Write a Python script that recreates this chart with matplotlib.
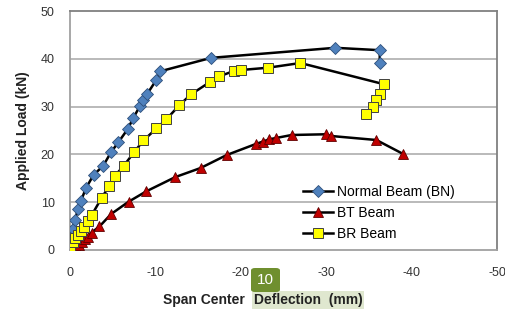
import matplotlib
matplotlib.use("Agg")
import matplotlib.pyplot as plt
from matplotlib.patches import FancyBboxPatch

plt.rcParams['font.family'] = ['Liberation Sans', 'DejaVu Sans']

# Normal Beam (BN)
bn_x = [0, -0.06, -0.32, -0.59, -0.94, -1.29, -1.88, -2.76, -3.88, -4.82, -5.65, -6.76,
        -7.41, -8.18, -8.55, -9.02, -10.12, -10.59, -16.53, -31.06, -36.27, -36.27]
bn_y = [0, 2.7, 4.4, 6.3, 8.6, 10.3, 13.0, 15.7, 17.6, 20.5, 22.5, 25.3,
        27.6, 30.1, 31.4, 32.6, 35.6, 37.4, 40.2, 42.3, 41.8, 39.1]

# BT Beam
bt_x = [0, -0.35, -0.71, -1.06, -1.41, -1.76, -2.12, -2.53, -3.45, -4.82, -6.86, -8.94,
        -12.35, -15.29, -18.35, -21.76, -22.55, -23.33, -24.12, -25.96, -29.94, -30.59,
        -35.88, -39.02]
bt_y = [0, 0.31, 0.73, 1.15, 1.67, 2.20, 2.82, 3.66, 4.92, 7.53, 10.10, 12.28,
        15.27, 17.15, 19.87, 22.18, 22.66, 23.16, 23.43, 24.06, 24.21, 23.85,
        23.01, 20.08]

# BR Beam
br_x = [0, -0.32, -0.59, -0.98, -1.29, -1.65, -2.12, -2.55, -3.73, -4.59, -5.24, -6.27,
        -7.53, -8.59, -10.12, -11.29, -12.82, -14.18, -16.39, -17.45, -19.18, -20.06,
        -23.21, -26.98, -36.79, -36.27, -35.88, -35.49, -34.71]
br_y = [0, 1.74, 2.45, 3.14, 3.97, 4.81, 6.07, 7.32, 10.98, 13.39, 15.48, 17.57,
        20.50, 22.91, 25.42, 27.34, 30.33, 32.57, 35.15, 36.30, 37.45, 37.66,
        38.14, 39.12, 34.67, 32.57, 31.38, 29.98, 28.39]

x_ticks = [0, -10, -20, -30, -40, -50]
y_ticks = [0, 10, 20, 30, 40, 50]

W, H = 506, 312
fig = plt.figure(figsize=(W / 100, H / 100), dpi=100)
ax = fig.add_axes([70 / W, 1 - 250 / H, 427 / W, 239 / H])

ax.set_xlim(0, -50)
ax.set_ylim(0, 50)

for yv in [10, 20, 30, 40]:
    ax.axhline(yv, color='#b4b4b4', lw=1.3, zorder=0)

ax.plot(bn_x, bn_y, color='black', lw=1.8, marker='D', markersize=6.2,
        markerfacecolor='#4f81bd', markeredgecolor='#2d4f7a', markeredgewidth=0.6,
        label='Normal Beam (BN)', zorder=3)
ax.plot(bt_x, bt_y, color='black', lw=1.8, marker='^', markersize=7.5,
        markerfacecolor='#c00000', markeredgecolor='#600000', markeredgewidth=0.6,
        label='BT Beam', zorder=3)
ax.plot(br_x, br_y, color='black', lw=1.8, marker='s', markersize=7.3,
        markerfacecolor='#ffff00', markeredgecolor='#404040', markeredgewidth=0.7,
        label='BR Beam', zorder=4)

ax.set_xticks(x_ticks)
ax.set_xticklabels([str(v) for v in x_ticks])
ax.set_yticks(y_ticks)
ax.set_yticklabels([str(v) for v in y_ticks])
ax.tick_params(length=0, labelsize=9, colors='#333333')
ax.tick_params(axis='x', pad=12)
ax.tick_params(axis='y', pad=11)

for side in ['left', 'bottom']:
    ax.spines[side].set_color('#a0a0a0')
    ax.spines[side].set_linewidth(1.3)
for side in ['top', 'right']:
    ax.spines[side].set_color('#808080')
    ax.spines[side].set_linewidth(1.3)

ax.set_ylabel('Applied Load (kN)', fontsize=10, fontweight='bold', color='#222222', labelpad=8)

leg = ax.legend(loc='upper left', bbox_to_anchor=((303 - 70) / 427, (250 - 185) / 239),
                frameon=False, fontsize=10, handlelength=2.15, handletextpad=0.3,
                labelspacing=0.5, borderaxespad=0, borderpad=0)

# x label with highlighted part
fig.text(163 / W, 1 - 300 / H, 'Span Center ', fontsize=10, fontweight='bold',
         color='#222222', ha='left', va='center')
fig.text(254 / W, 1 - 300 / H, 'Deflection  (mm)', fontsize=10, fontweight='bold',
         color='#222222', ha='left', va='center',
         bbox=dict(boxstyle='square,pad=0.12', facecolor='#dfe7cf', edgecolor='none'))

# green badge
badge = FancyBboxPatch((251 / W, 1 - 292 / H), 29 / W, 24 / H,
                       boxstyle='round,pad=0,rounding_size=0.008',
                       transform=fig.transFigure, facecolor='#6f8f2f',
                       edgecolor='none', zorder=5)
fig.patches.append(badge)
fig.text(265.5 / W, 1 - 280 / H, '10', fontsize=11, color='white',
         ha='center', va='center', zorder=6)

fig.savefig('out.png', dpi=100)
